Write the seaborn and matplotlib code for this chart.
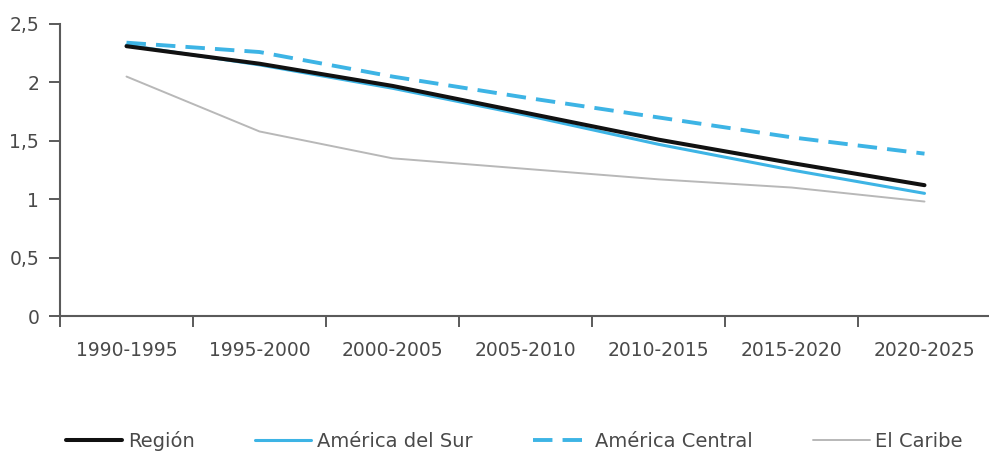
import matplotlib
matplotlib.use('Agg')
import matplotlib.pyplot as plt
import seaborn as sns
import pandas as pd
import numpy as np

# ── data ──
periodos = ['1990-1995', '1995-2000', '2000-2005', '2005-2010',
            '2010-2015', '2015-2020', '2020-2025']
region = [2.31, 2.16, 1.97, 1.74, 1.51, 1.31, 1.12]
america_sur = [2.32, 2.15, 1.95, 1.72, 1.47, 1.25, 1.05]
america_central = [2.34, 2.26, 2.05, 1.87, 1.70, 1.53, 1.39]
caribe = [2.05, 1.58, 1.35, 1.26, 1.17, 1.10, 0.98]
y_ticks = [0, 0.5, 1, 1.5, 2, 2.5]
y_labels = ['0', '0,5', '1', '1,5', '2', '2,5']

sns.set_style('white')
plt.rcParams['font.family'] = ['DejaVu Sans']

axis_grey = '#5a5a5a'
text_grey = '#4a4a4a'
blue = '#3db4e5'

fig = plt.figure(figsize=(9.89, 4.55), dpi=100)
ax = fig.add_axes([60 / 989, 1 - 316 / 455, 931 / 989, (316 - 24) / 455])

x = np.arange(len(periodos))
series = [
    ('El Caribe', caribe, '#b8b8b8', 1.4, ''),
    ('América del Sur', america_sur, blue, 2.2, ''),
    ('América Central', america_central, blue, 2.8, (5, 2.6)),
    ('Región', region, '#111111', 2.9, ''),
]
handles = {}
for name, vals, col, lw, dash in series:
    sns.lineplot(x=x, y=vals, ax=ax, color=col, linewidth=lw, label=name,
                 legend=False)
    line = ax.get_lines()[-1]
    if dash:
        line.set_dashes(dash)
    handles[name] = line

ax.set_xlim(-0.5, len(periodos) - 0.5)
ax.set_ylim(0, 2.5)

# category boundary ticks below the axis, labels centered in each slot
ax.set_xticks(x)
ax.set_xticklabels(periodos)
ax.set_xticks(np.arange(-0.5, len(periodos) + 0.5, 1), minor=True)
ax.tick_params(axis='x', which='major', length=0, pad=18,
               labelsize=13.5, labelcolor=text_grey)
ax.tick_params(axis='x', which='minor', direction='out', length=8,
               width=1.4, color=axis_grey, bottom=True)

ax.set_yticks(y_ticks)
ax.set_yticklabels(y_labels)
ax.tick_params(axis='y', direction='out', length=8, width=1.4,
               color=axis_grey, pad=7, labelsize=13.5, labelcolor=text_grey,
               left=True)

for side in ['top', 'right']:
    ax.spines[side].set_visible(False)
for side in ['left', 'bottom']:
    ax.spines[side].set_color(axis_grey)
    ax.spines[side].set_linewidth(1.5)

order = ['Región', 'América del Sur', 'América Central', 'El Caribe']
leg = fig.legend([handles[n] for n in order], order, loc='center',
                 bbox_to_anchor=(0.52, 1 - 441 / 455), ncol=4, frameon=False,
                 fontsize=14, handlelength=2.9, handletextpad=0.3,
                 columnspacing=3.1)
for t in leg.get_texts():
    t.set_color(text_grey)

fig.savefig('out.png', dpi=100)
